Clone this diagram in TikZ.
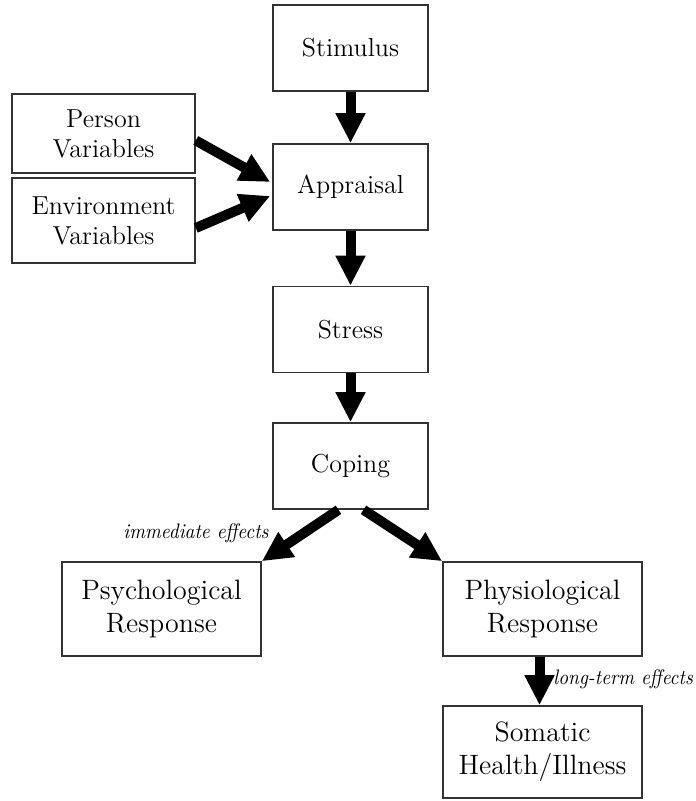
\documentclass[tikz,border=0pt]{standalone}
\usepackage{fontspec}
\usepackage{tikz}
\usetikzlibrary{arrows.meta,calc,positioning}
\tikzset{
  stressBox/.style={draw=black!80, line width=0.8pt, align=center, inner sep=2pt},
  stressArrow/.style={-{Triangle[width=14pt,length=15pt]}, line width=5pt},
  stressEffectLabel/.style={font=\fontsize{10.5}{12}\selectfont\itshape, inner sep=1pt}
}
\newcommand{\narrowtext}[1]{\scalebox{0.92}[1]{#1}}

\begin{document}
\begin{tikzpicture}[
        x=0.5pt, y=-0.5pt,
        stage/.style={stressBox, font=\fontsize{13}{15}\selectfont, minimum width=77.5pt, minimum height=43pt},
        factor/.style={stressBox, font=\fontsize{13}{15}\selectfont, minimum width=91.5pt, minimum height=41pt},
        outcome/.style={stressBox, font=\fontsize{14}{16.5}\selectfont, minimum width=99.5pt, minimum height=47pt}
      ]
      \useasboundingbox (0,0) rectangle (695,801);
      \node[stage] (stimulus) at (350.5,48) {Stimulus};
      \node[stage] (appraisal) at (350.5,187) {Appraisal};
      \node[stage] (stress) at (350.5,329.5) {Stress};
      \node[stage] (coping) at (350.5,466) {Coping};
      \node[factor, minimum height=39.5pt] (person) at (103.5,133.5) {Person\\Variables};
      \node[factor, minimum height=42.5pt] (environment) at (103.5,220.5) {Environment\\Variables};
      \node[outcome] (psych) at (161.5,609) {Psychological\\Response};
      \node[outcome] (physio) at (542.5,609) {Physiological\\Response};
      \node[outcome, minimum height=46pt] (somatic) at (542.5,752) {Somatic\\Health/Illness};
      \draw[stressArrow] (stimulus) -- (appraisal);
      \draw[stressArrow] ($(person.east)+(0,7)$) -- ($(appraisal.west)+(-2,-5)$);
      \draw[stressArrow] ($(environment.east)+(0,7.5)$) -- ($(appraisal.west)+(-2,9)$);
      \draw[stressArrow] (appraisal) -- (stress);
      \draw[stressArrow] (stress) -- (coping);
      \draw[stressArrow] ($(coping.south)+(-12,0)$) -- (psych.north east);
      \draw[stressArrow] ($(coping.south)+(13,0)$) -- (physio.north west);
      \draw[stressArrow] ($(physio.south)+(-3,0)$) -- ($(somatic.north)+(-3,0)$);
      \node[stressEffectLabel, anchor=east] (immediate) at (271,533) {\narrowtext{immediate effects}};
      \node[stressEffectLabel, anchor=west] (longterm) at (551,679) {\narrowtext{long-term effects}};
    \end{tikzpicture}
\end{document}
